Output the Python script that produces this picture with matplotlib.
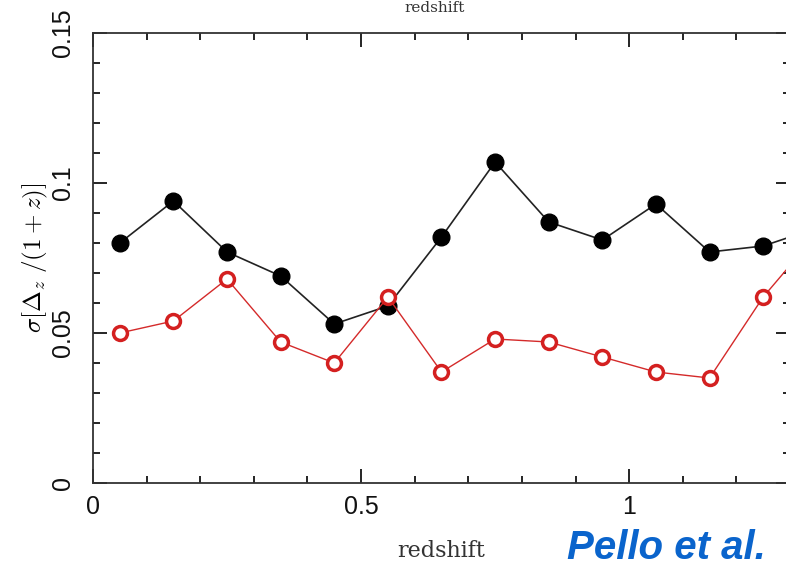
import numpy as np
import matplotlib
matplotlib.use('Agg')
import matplotlib.pyplot as plt
from matplotlib.ticker import MultipleLocator

# redshift bins (last bin sits just outside the visible frame)
z_bins = [0.05, 0.15, 0.25, 0.35, 0.45, 0.55, 0.65, 0.75, 0.85, 0.95, 1.05, 1.15, 1.25, 1.35]
sigma_black = [0.080, 0.094, 0.077, 0.069, 0.053, 0.059, 0.082, 0.107, 0.087, 0.081,
               0.093, 0.077, 0.079, 0.085]
sigma_red = [0.050, 0.054, 0.068, 0.047, 0.040, 0.062, 0.037, 0.048, 0.047, 0.042,
             0.037, 0.035, 0.062, 0.083]

x_ticks = [0, 0.5, 1]
x_ticklabels = ['0', '0.5', '1']
y_ticks = [0, 0.05, 0.1, 0.15]
y_ticklabels = ['0', '0.05', '0.1', '0.15']


def main():
    plt.rcParams['mathtext.fontset'] = 'cm'
    W, H = 786, 569
    fig = plt.figure(figsize=(W / 100, H / 100), dpi=100)
    left, right, top, bottom = 93, 790, 33, 483
    ax = fig.add_axes([left / W, 1 - bottom / H, (right - left) / W, (bottom - top) / H])

    ax.plot(z_bins, sigma_black, '-', color='#222222', lw=1.2, marker='o', ms=12,
            mfc='black', mec='black')
    ax.plot(z_bins, sigma_red, '-', color='#d42a2a', lw=1.0, marker='o', ms=10,
            mfc='white', mec='#d42020', mew=2.5)

    ax.set_xlim(0, 1.3)
    ax.set_ylim(0, 0.15)

    ax.set_xticks(x_ticks)
    ax.set_xticklabels(x_ticklabels, fontsize=18, family='Liberation Sans', color='#111111')
    ax.set_yticks(y_ticks)
    ax.set_yticklabels(y_ticklabels, fontsize=18, family='Liberation Sans', color='#111111',
                       rotation=90, va='center')
    ax.xaxis.set_minor_locator(MultipleLocator(0.1))
    ax.yaxis.set_minor_locator(MultipleLocator(0.01))
    ax.tick_params(which='both', direction='in', top=True, right=True, width=1.2)
    ax.tick_params(which='major', length=10)
    ax.tick_params(which='minor', length=5)
    ax.tick_params(axis='x', which='major', pad=9)
    ax.tick_params(axis='y', which='major', pad=13)
    for s in ax.spines.values():
        s.set_linewidth(1.3)
        s.set_color('#333333')

    ax.set_ylabel(r'$\sigma[\Delta_z\ /(1+z)]$', fontsize=18, labelpad=1)

    fig.text(441 / W, 1 - 551 / H, 'redshift', ha='center', va='center',
             fontsize=16, family='DejaVu Serif', color='#333333')
    fig.text(435 / W, 1 - 0.5 / H, 'redshift', ha='center', va='top',
             fontsize=11, family='DejaVu Serif', color='#333333')
    fig.text(567 / W, 1 - 559 / H, 'Pello et al.', ha='left', va='baseline',
             fontsize=29, family='Liberation Sans', style='italic',
             weight='bold', color='#0a64cc')

    fig.savefig('out.png', dpi=100)


if __name__ == '__main__':
    main()
